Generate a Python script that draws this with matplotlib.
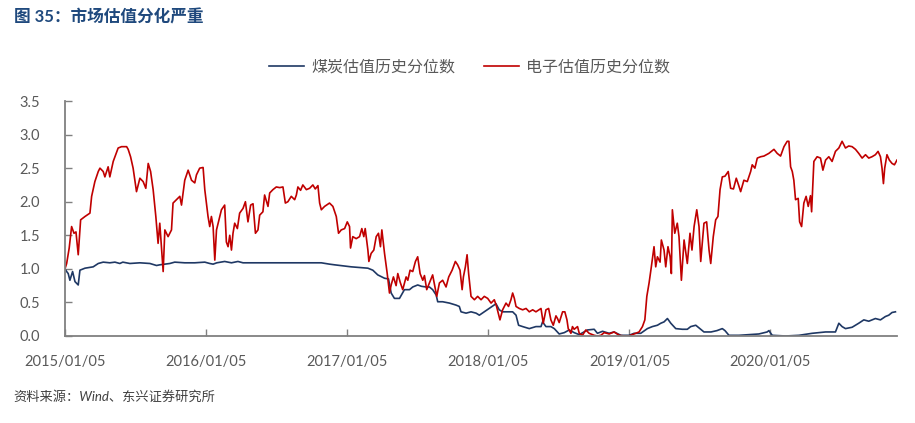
import matplotlib

matplotlib.use("Agg")
import matplotlib.pyplot as plt
import numpy as np
import pandas as pd

# time axis as decimal years (2015.010 ~ 2015/01/05)
COAL_T = [
    2015.010, 2015.022, 2015.033, 2015.045, 2015.064, 2015.081, 2015.104, 2015.116,
    2015.152, 2015.210, 2015.246, 2015.281, 2015.328, 2015.364, 2015.399, 2015.420,
    2015.470, 2015.541, 2015.612, 2015.659, 2015.682, 2015.718, 2015.753, 2015.788,
    2015.859, 2015.930, 2016.001, 2016.036, 2016.060, 2016.086, 2016.142, 2016.190,
    2016.236, 2016.272, 2016.390, 2016.602, 2016.744, 2016.827, 2016.885, 2016.921,
    2017.039, 2017.157, 2017.192, 2017.227, 2017.275, 2017.303, 2017.322, 2017.345,
    2017.381, 2017.416, 2017.452, 2017.475, 2017.510, 2017.537, 2017.570, 2017.593,
    2017.616, 2017.641, 2017.652, 2017.687, 2017.735, 2017.782, 2017.805, 2017.817,
    2017.853, 2017.888, 2017.924, 2017.947, 2017.982, 2018.018, 2018.053, 2018.065,
    2018.088, 2018.112, 2018.147, 2018.183, 2018.207, 2018.225, 2018.254, 2018.301,
    2018.348, 2018.384, 2018.395, 2018.419, 2018.454, 2018.478, 2018.513, 2018.549,
    2018.584, 2018.619, 2018.655, 2018.714, 2018.761, 2018.784, 2018.820, 2018.867,
    2018.902, 2018.950, 2019.008, 2019.044, 2019.091, 2019.138, 2019.173, 2019.209,
    2019.233, 2019.256, 2019.280, 2019.304, 2019.339, 2019.386, 2019.421, 2019.445,
    2019.481, 2019.504, 2019.539, 2019.589, 2019.631, 2019.669, 2019.688, 2019.716,
    2019.787, 2019.858, 2019.928, 2019.987, 2019.999, 2020.023, 2020.118, 2020.212,
    2020.306, 2020.401, 2020.471, 2020.495, 2020.518, 2020.542, 2020.589, 2020.636,
    2020.672, 2020.707, 2020.754, 2020.790, 2020.825, 2020.849, 2020.872, 2020.896,
]
COAL_V = [
    1.00, 0.96, 0.93, 0.83, 0.96, 0.81, 0.76, 0.98,
    1.01, 1.03, 1.08, 1.10, 1.09, 1.10, 1.08, 1.10,
    1.08, 1.09, 1.08, 1.05, 1.06, 1.07, 1.08, 1.10,
    1.09, 1.09, 1.10, 1.08, 1.07, 1.09, 1.11, 1.09,
    1.11, 1.09, 1.09, 1.09, 1.09, 1.09, 1.07, 1.06,
    1.03, 1.01, 0.98, 0.91, 0.86, 0.85, 0.64, 0.56,
    0.56, 0.69, 0.69, 0.73, 0.76, 0.74, 0.73, 0.73,
    0.69, 0.61, 0.51, 0.51, 0.49, 0.46, 0.44, 0.36,
    0.34, 0.36, 0.34, 0.31, 0.36, 0.41, 0.46, 0.48,
    0.39, 0.36, 0.36, 0.36, 0.31, 0.16, 0.14, 0.11,
    0.14, 0.14, 0.21, 0.14, 0.14, 0.11, 0.03, 0.05,
    0.09, 0.05, 0.02, 0.09, 0.10, 0.04, 0.07, 0.04,
    0.06, 0.01, 0.01, 0.04, 0.04, 0.11, 0.14, 0.16,
    0.19, 0.21, 0.26, 0.19, 0.11, 0.10, 0.10, 0.14,
    0.16, 0.12, 0.06, 0.06, 0.08, 0.11, 0.08, 0.01,
    0.01, 0.02, 0.03, 0.06, 0.08, 0.01, 0.00, 0.01,
    0.04, 0.06, 0.06, 0.19, 0.14, 0.11, 0.13, 0.19,
    0.24, 0.22, 0.26, 0.24, 0.29, 0.31, 0.35, 0.36,
]

ELEC_T = [
    2015.010, 2015.022, 2015.040, 2015.057, 2015.074, 2015.088, 2015.104, 2015.121,
    2015.152, 2015.187, 2015.199, 2015.222, 2015.246, 2015.258, 2015.281, 2015.293,
    2015.316, 2015.328, 2015.352, 2015.387, 2015.411, 2015.447, 2015.458, 2015.475,
    2015.493, 2015.517, 2015.541, 2015.564, 2015.583, 2015.600, 2015.617, 2015.635,
    2015.654, 2015.670, 2015.682, 2015.694, 2015.706, 2015.718, 2015.741, 2015.765,
    2015.776, 2015.800, 2015.824, 2015.836, 2015.859, 2015.883, 2015.907, 2015.930,
    2015.942, 2015.965, 2015.989, 2016.001, 2016.024, 2016.036, 2016.048, 2016.060,
    2016.072, 2016.084, 2016.119, 2016.142, 2016.154, 2016.166, 2016.178, 2016.190,
    2016.201, 2016.213, 2016.232, 2016.248, 2016.272, 2016.289, 2016.307, 2016.326,
    2016.343, 2016.360, 2016.378, 2016.390, 2016.413, 2016.425, 2016.449, 2016.461,
    2016.484, 2016.508, 2016.532, 2016.555, 2016.572, 2016.590, 2016.614, 2016.638,
    2016.650, 2016.661, 2016.680, 2016.696, 2016.721, 2016.744, 2016.767, 2016.784,
    2016.803, 2016.815, 2016.827, 2016.850, 2016.885, 2016.909, 2016.933, 2016.949,
    2016.968, 2016.992, 2017.011, 2017.027, 2017.034, 2017.050, 2017.074, 2017.098,
    2017.114, 2017.128, 2017.138, 2017.157, 2017.164, 2017.180, 2017.199, 2017.216,
    2017.232, 2017.246, 2017.256, 2017.275, 2017.294, 2017.310, 2017.322, 2017.338,
    2017.357, 2017.369, 2017.386, 2017.404, 2017.428, 2017.440, 2017.456, 2017.475,
    2017.494, 2017.510, 2017.527, 2017.546, 2017.558, 2017.574, 2017.593, 2017.616,
    2017.636, 2017.645, 2017.664, 2017.687, 2017.711, 2017.730, 2017.754, 2017.777,
    2017.793, 2017.810, 2017.825, 2017.834, 2017.848, 2017.860, 2017.871, 2017.888,
    2017.912, 2017.935, 2017.959, 2017.982, 2018.006, 2018.030, 2018.053, 2018.069,
    2018.093, 2018.112, 2018.136, 2018.154, 2018.171, 2018.183, 2018.195, 2018.207,
    2018.230, 2018.254, 2018.278, 2018.301, 2018.325, 2018.348, 2018.384, 2018.400,
    2018.419, 2018.438, 2018.454, 2018.471, 2018.490, 2018.501, 2018.513, 2018.537,
    2018.553, 2018.568, 2018.577, 2018.596, 2018.607, 2018.619, 2018.643, 2018.655,
    2018.678, 2018.702, 2018.725, 2018.761, 2018.784, 2018.808, 2018.832, 2018.867,
    2018.902, 2018.938, 2018.973, 2019.008, 2019.044, 2019.079, 2019.103, 2019.120,
    2019.134, 2019.150, 2019.166, 2019.185, 2019.197, 2019.209, 2019.228, 2019.237,
    2019.256, 2019.268, 2019.284, 2019.299, 2019.308, 2019.315, 2019.332, 2019.350,
    2019.362, 2019.379, 2019.398, 2019.421, 2019.440, 2019.454, 2019.469, 2019.488,
    2019.504, 2019.516, 2019.539, 2019.558, 2019.575, 2019.587, 2019.605, 2019.622,
    2019.638, 2019.653, 2019.669, 2019.688, 2019.711, 2019.728, 2019.748, 2019.768,
    2019.784, 2019.799, 2019.822, 2019.846, 2019.870, 2019.881, 2019.900, 2019.917,
    2019.941, 2019.964, 2019.999, 2020.035, 2020.058, 2020.082, 2020.106, 2020.129,
    2020.141, 2020.153, 2020.165, 2020.176, 2020.188, 2020.207, 2020.217, 2020.231,
    2020.247, 2020.263, 2020.278, 2020.294, 2020.302, 2020.318, 2020.341, 2020.365,
    2020.382, 2020.401, 2020.424, 2020.447, 2020.471, 2020.495, 2020.518, 2020.542,
    2020.565, 2020.589, 2020.613, 2020.636, 2020.660, 2020.684, 2020.707, 2020.730,
    2020.754, 2020.773, 2020.790, 2020.801, 2020.811, 2020.820, 2020.836, 2020.853,
    2020.872, 2020.889, 2020.907,
]
ELEC_V = [
    1.00, 1.08, 1.31, 1.63, 1.53, 1.55, 1.21, 1.73,
    1.78, 1.83, 2.08, 2.30, 2.45, 2.50, 2.45, 2.37,
    2.52, 2.37, 2.60, 2.80, 2.82, 2.82, 2.78, 2.67,
    2.50, 2.15, 2.35, 2.30, 2.20, 2.57, 2.45, 2.18,
    1.78, 1.38, 1.68, 1.33, 0.96, 1.58, 1.48, 1.58,
    1.98, 2.03, 2.08, 1.95, 2.32, 2.47, 2.32, 2.28,
    2.40, 2.50, 2.51, 2.18, 1.78, 1.63, 1.78, 1.63,
    1.13, 1.58, 1.88, 1.95, 1.40, 1.33, 1.50, 1.28,
    1.53, 1.68, 1.60, 1.83, 1.90, 2.00, 1.70, 1.95,
    1.97, 1.53, 1.58, 1.80, 1.85, 2.10, 1.93, 2.13,
    2.18, 2.22, 2.21, 2.22, 1.98, 2.00, 2.08, 2.03,
    2.10, 2.22, 2.17, 2.25, 2.18, 2.20, 2.25, 2.19,
    2.24, 1.98, 1.88, 1.93, 1.98, 1.93, 1.78, 1.53,
    1.58, 1.60, 1.70, 1.63, 1.31, 1.48, 1.45, 1.48,
    1.60, 1.48, 1.60, 1.28, 1.11, 1.23, 1.28, 1.48,
    1.53, 1.33, 1.58, 1.23, 0.93, 0.64, 0.76, 0.88,
    0.75, 0.93, 0.80, 0.69, 0.88, 0.83, 0.98, 0.96,
    1.11, 1.18, 0.93, 0.83, 0.90, 0.69, 0.79, 0.91,
    0.69, 0.59, 0.79, 0.83, 0.73, 0.88, 0.98, 1.11,
    1.06, 0.98, 0.69, 0.88, 1.03, 1.21, 0.93, 0.59,
    0.54, 0.59, 0.54, 0.59, 0.56, 0.49, 0.54, 0.44,
    0.24, 0.39, 0.49, 0.44, 0.54, 0.64, 0.56, 0.44,
    0.41, 0.39, 0.41, 0.36, 0.39, 0.36, 0.41, 0.19,
    0.39, 0.41, 0.24, 0.16, 0.30, 0.26, 0.20, 0.36,
    0.36, 0.24, 0.11, 0.04, 0.14, 0.10, 0.14, 0.04,
    0.01, 0.09, 0.04, 0.01, 0.00, 0.01, 0.05, 0.03,
    0.06, 0.01, 0.00, 0.00, 0.03, 0.06, 0.14, 0.24,
    0.59, 0.79, 1.03, 1.33, 1.03, 1.18, 1.10, 1.43,
    1.28, 1.03, 1.33, 1.18, 0.93, 1.88, 1.53, 1.68,
    1.48, 0.83, 1.43, 1.08, 1.53, 1.28, 1.63, 1.88,
    1.63, 1.11, 1.68, 1.70, 1.28, 1.08, 1.48, 1.73,
    1.78, 2.18, 2.37, 2.38, 2.45, 2.20, 2.19, 2.35,
    2.25, 2.15, 2.32, 2.30, 2.45, 2.55, 2.50, 2.65,
    2.67, 2.68, 2.72, 2.78, 2.72, 2.68, 2.82, 2.90,
    2.90, 2.52, 2.45, 2.32, 2.03, 2.05, 1.70, 1.63,
    1.98, 2.08, 1.93, 2.09, 1.85, 2.60, 2.67, 2.65,
    2.47, 2.62, 2.67, 2.60, 2.75, 2.80, 2.90, 2.80,
    2.83, 2.82, 2.78, 2.72, 2.65, 2.70, 2.65, 2.67,
    2.70, 2.75, 2.67, 2.50, 2.27, 2.50, 2.70, 2.62,
    2.57, 2.55, 2.62,
]

COAL_LABEL = "煤炭估值历史分位数"
ELEC_LABEL = "电子估值历史分位数"
TITLE = "图 35：市场估值分化严重"
SOURCE = "资料来源：Wind、东兴证券研究所"
TICK_DATES = ["2015-01-05", "2016-01-05", "2017-01-05", "2018-01-05", "2019-01-05", "2020-01-05"]
Y_TICKS = [0.0, 0.5, 1.0, 1.5, 2.0, 2.5, 3.0, 3.5]

NAVY = "#1F3864"
RED = "#C00000"
GREY = "#595959"


def to_dates(years):
    yrs = np.asarray(years)
    base = pd.Timestamp("2015-01-01")
    return base + pd.to_timedelta((yrs - 2015.0) * 365.25, unit="D")


plt.rcParams["font.family"] = ["Lato", "Noto Sans CJK SC", "DejaVu Sans"]

fig = plt.figure(figsize=(9.15, 4.23), dpi=100)
ax = fig.add_axes([0.0710, 0.2057, 0.9093, 0.5555])

coal_dates = to_dates(COAL_T)
elec_dates = to_dates(ELEC_T)
ax.plot(coal_dates, COAL_V, color=NAVY, lw=1.2, label=COAL_LABEL)
ax.plot(elec_dates, ELEC_V, color=RED, lw=1.2, label=ELEC_LABEL)

ax.set_ylim(0, 3.5)
ax.set_xlim(coal_dates[0], elec_dates[-1])
ax.set_yticks(Y_TICKS)
ax.set_yticklabels([f"{v:.1f}" for v in Y_TICKS])
ticks = pd.to_datetime(TICK_DATES)
ax.set_xticks(ticks)
ax.set_xticklabels([d.strftime("%Y/%m/%d") for d in ticks])

for side in ("top", "right"):
    ax.spines[side].set_visible(False)
for side in ("left", "bottom"):
    ax.spines[side].set_color("#808080")
    ax.spines[side].set_linewidth(1.3)
ax.tick_params(axis="y", direction="in", length=5, width=1, color="#808080",
               labelsize=10.5, labelcolor=GREY, pad=18)
ax.tick_params(axis="x", direction="in", length=5, width=1, color="#808080",
               labelsize=10.5, labelcolor=GREY, pad=14)

fig.legend(loc="center", bbox_to_anchor=(0.513, 0.842), ncol=2, frameon=False,
           fontsize=11.5, labelcolor=GREY, handlelength=2.2, handletextpad=0.45,
           columnspacing=1.8)

fig.text(0.015, 0.96, TITLE, fontsize=12, fontweight="bold", color="#1F497D",
         va="center", ha="left")
fig.text(0.015, 0.064, SOURCE, fontsize=9.5, style="italic", color="#404040",
         va="center", ha="left")

fig.savefig("out.png", dpi=100)
